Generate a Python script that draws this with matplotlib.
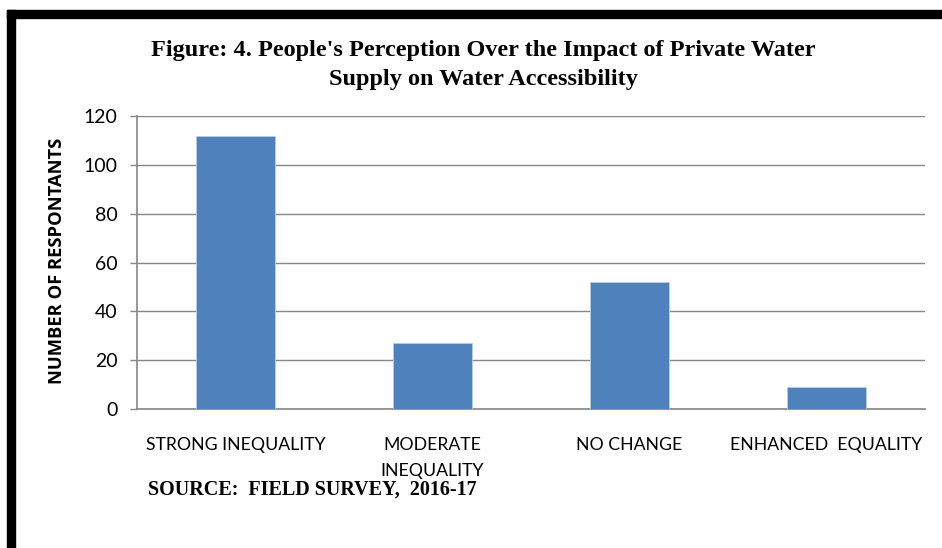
import matplotlib.pyplot as plt
from matplotlib.patches import Rectangle

categories = ["STRONG INEQUALITY", "MODERATE\nINEQUALITY", "NO CHANGE", "ENHANCED  EQUALITY"]
values = [112, 27, 52, 9]
yticks = [0, 20, 40, 60, 80, 100, 120]

W, H = 942, 548
fig = plt.figure(figsize=(W / 100, H / 100), dpi=100)

# axes box in pixel coords: x 137..925, y 116..409
ax = fig.add_axes([137 / W, 1 - 409 / H, (925 - 137) / W, (409 - 116) / H])
ax.bar(range(len(values)), values, width=0.4, color="#4f81bd", edgecolor="#b9cde5", linewidth=0.6, zorder=3)
ax.set_xlim(-0.5, len(values) - 0.5)
ax.set_ylim(0, 120)
ax.set_yticks(yticks)
ax.set_xticks(range(len(values)))
ax.set_xticklabels(categories, fontsize=12.7, family="Lato", linespacing=1.75, va="top")
ax.tick_params(axis="x", length=0, pad=20)
ax.tick_params(axis="y", length=5, width=1, color="#868686", labelsize=14, pad=9)
for lbl in ax.get_yticklabels():
    lbl.set_family("Lato")
ax.grid(axis="y", color="#868686", linewidth=1, zorder=0)
for s in ["top", "right"]:
    ax.spines[s].set_visible(False)
ax.spines["left"].set_color("#868686")
ax.spines["bottom"].set_color("#868686")
ax.spines["left"].set_linewidth(1.2)
ax.spines["bottom"].set_linewidth(1.2)

fig.text(57 / W, 1 - 261 / H, "NUMBER OF RESPONTANTS", rotation=90, ha="center", va="center",
         fontsize=13.2, fontweight="bold", family="Open Sans")

fig.text(483 / W, 1 - 65 / H, "Figure: 4. People's Perception Over the Impact of Private Water\nSupply on Water Accessibility",
         ha="center", va="center", fontsize=17.5, fontweight="bold", family="Liberation Serif", linespacing=1.45)

fig.text(148 / W, 1 - 490 / H, "SOURCE:  FIELD SURVEY,  2016-17", ha="left", va="center",
         fontsize=14.5, fontweight="bold", family="Liberation Serif")

# thick black frame on left and top edges
fig.patches.append(Rectangle((7 / W, 0), 8 / W, 1 - 10 / H, transform=fig.transFigure, color="black", zorder=10))
fig.patches.append(Rectangle((7 / W, 1 - 18 / H), 1, 8 / H, transform=fig.transFigure, color="black", zorder=10))

fig.savefig("out.png", dpi=100)
